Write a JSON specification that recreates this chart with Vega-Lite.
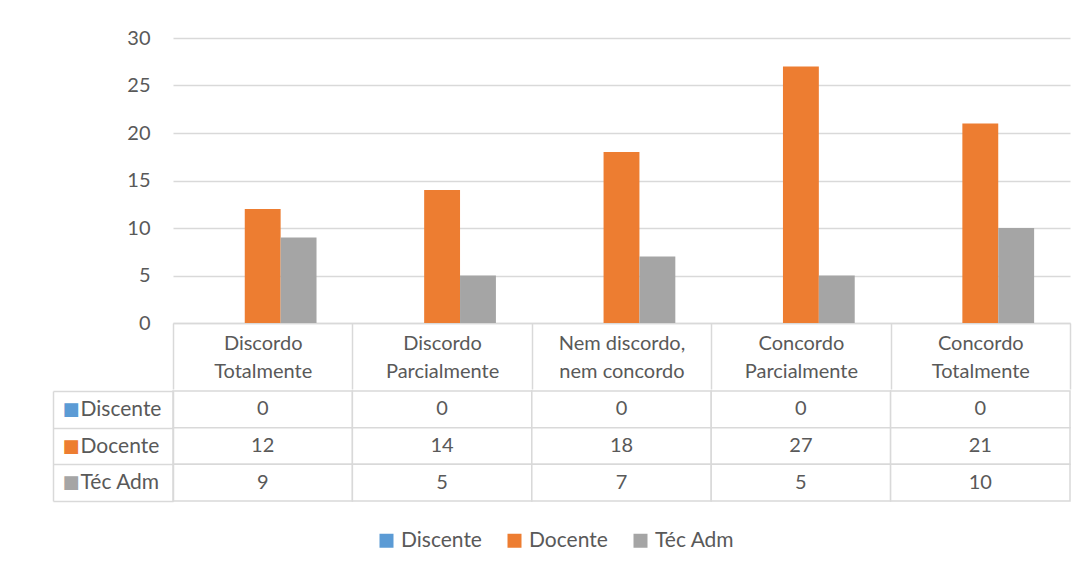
{
  "$schema": "https://vega.github.io/schema/vega-lite/v6.json",
  "padding": {"left": 52, "top": 28, "right": 5, "bottom": 5},
  "background": "#ffffff",
  "config": {
    "font": "Lato",
    "view": {"stroke": null},
    "axis": {"labelFont": "Lato", "labelFontSize": 20, "labelColor": "#595959", "title": null}
  },
  "data": {
    "values": [
      {"categoria": "Discordo Totalmente", "grupo": "Discente", "valor": 0},
      {"categoria": "Discordo Totalmente", "grupo": "Docente", "valor": 12},
      {"categoria": "Discordo Totalmente", "grupo": "Téc Adm", "valor": 9},
      {"categoria": "Discordo Parcialmente", "grupo": "Discente", "valor": 0},
      {"categoria": "Discordo Parcialmente", "grupo": "Docente", "valor": 14},
      {"categoria": "Discordo Parcialmente", "grupo": "Téc Adm", "valor": 5},
      {"categoria": "Nem discordo, nem concordo", "grupo": "Discente", "valor": 0},
      {"categoria": "Nem discordo, nem concordo", "grupo": "Docente", "valor": 18},
      {"categoria": "Nem discordo, nem concordo", "grupo": "Téc Adm", "valor": 7},
      {"categoria": "Concordo Parcialmente", "grupo": "Discente", "valor": 0},
      {"categoria": "Concordo Parcialmente", "grupo": "Docente", "valor": 27},
      {"categoria": "Concordo Parcialmente", "grupo": "Téc Adm", "valor": 5},
      {"categoria": "Concordo Totalmente", "grupo": "Discente", "valor": 0},
      {"categoria": "Concordo Totalmente", "grupo": "Docente", "valor": 21},
      {"categoria": "Concordo Totalmente", "grupo": "Téc Adm", "valor": 10}
    ]
  },
  "spacing": -10,
  "vconcat": [
    {
      "width": 897,
      "height": 285,
      "mark": {"type": "bar"},
      "encoding": {
        "x": {
          "field": "categoria", "type": "nominal", "sort": null,
          "scale": {"paddingInner": 0, "paddingOuter": 0},
          "axis": {
            "labelAngle": 0,
            "tickBand": "extent",
            "tickSize": 66,
            "tickColor": "#d9d9d9",
            "tickWidth": 1.5,
            "domainColor": "#d9d9d9",
            "domainWidth": 1.5,
            "labelBaseline": "top",
            "labelPadding": -56,
            "labelLineHeight": 28,
            "labelOverlap": false,
            "labelExpr": "!isValid(datum.value) ? '' : datum.value == 'Nem discordo, nem concordo' ? ['Nem discordo,', 'nem concordo'] : split(datum.value, ' ')"
          }
        },
        "xOffset": {
          "field": "grupo", "type": "nominal", "sort": ["Discente", "Docente", "Téc Adm"],
          "scale": {"paddingInner": 0, "paddingOuter": 1.1}
        },
        "y": {
          "field": "valor", "type": "quantitative",
          "scale": {"domain": [0, 30], "nice": false},
          "axis": {
            "values": [0, 5, 10, 15, 20, 25, 30],
            "domain": false,
            "ticks": false,
            "labelPadding": 23,
            "gridColor": "#d9d9d9",
            "gridWidth": 1.5
          }
        },
        "color": {
          "field": "grupo", "type": "nominal",
          "scale": {"domain": ["Discente", "Docente", "Téc Adm"], "range": ["#5B9BD5", "#ED7D31", "#A5A5A5"]},
          "legend": {
            "orient": "none",
            "legendX": 203,
            "legendY": 492,
            "direction": "horizontal",
            "title": null,
            "symbolType": "square",
            "symbolSize": 196,
            "symbolStrokeWidth": 0,
            "labelFont": "Lato",
            "labelFontSize": 21,
            "labelColor": "#595959",
            "labelOffset": 4,
            "columnPadding": 22
          }
        }
      }
    },
    {
      "width": 897,
      "height": 110,
      "encoding": {
        "x": {"field": "categoria", "type": "nominal", "sort": null, "scale": {"paddingInner": 0, "paddingOuter": 0}, "axis": null}
      },
      "layer": [
        {
          "mark": {"type": "rect", "fill": "#ffffff", "stroke": "#d9d9d9", "strokeWidth": 1.5},
          "encoding": {
            "y": {
              "field": "grupo", "type": "nominal", "sort": ["Discente", "Docente", "Téc Adm"],
              "scale": {"paddingInner": 0, "paddingOuter": 0},
              "axis": {
                "orient": "left",
                "tickBand": "extent",
                "tickSize": 120,
                "tickColor": "#d9d9d9",
                "tickWidth": 1.5,
                "domainColor": "#d9d9d9",
                "domainWidth": 1.5,
                "labelAlign": "left",
                "labelBaseline": "middle",
                "labelFontSize": 21,
                "labelPadding": -27
              }
            }
          }
        },
        {
          "mark": {"type": "text", "font": "Lato", "fontSize": 20, "color": "#595959"},
          "encoding": {
            "text": {"field": "valor", "type": "quantitative"},
            "y": {
              "field": "grupo", "type": "nominal", "sort": ["Discente", "Docente", "Téc Adm"],
              "scale": {"paddingInner": 0, "paddingOuter": 0},
              "axis": {
                "orient": "left",
                "offset": 120,
                "ticks": false,
                "domainColor": "#d9d9d9",
                "domainWidth": 1.5,
                "labelAlign": "left",
                "labelBaseline": "middle",
                "labelPadding": -9,
                "labelFont": "DejaVu Sans",
                "labelFontSize": 18,
                "labelExpr": "'■'",
                "labelColor": {
                  "condition": [
                    {"test": "datum.value === 'Discente'", "value": "#5B9BD5"},
                    {"test": "datum.value === 'Docente'", "value": "#ED7D31"}
                  ],
                  "value": "#A5A5A5"
                }
              }
            }
          }
        }
      ],
      "resolve": {"scale": {"y": "independent"}, "axis": {"y": "independent"}}
    }
  ]
}
